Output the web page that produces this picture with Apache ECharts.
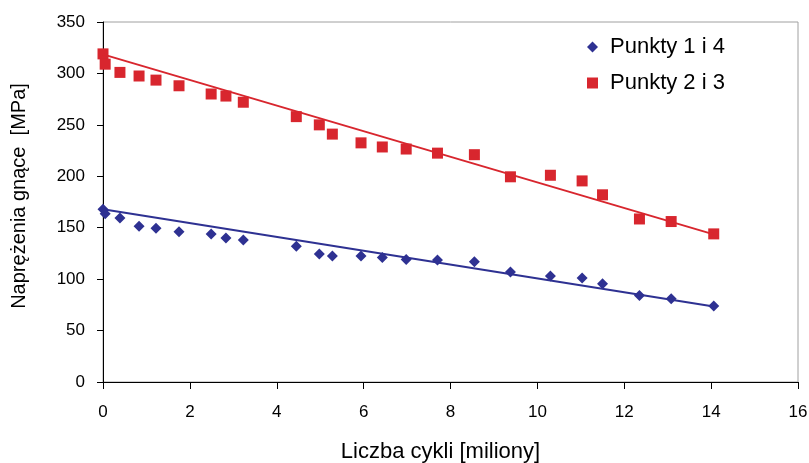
<!DOCTYPE html>
<html>
<head>
<meta charset="utf-8">
<script src="https://cdn.jsdelivr.net/npm/echarts@6/dist/echarts.min.js"></script>
<style>
  html, body { margin: 0; padding: 0; background: #fff; }
  #chart { width: 809px; height: 463px; }
</style>
</head>
<body>
<div id="chart"></div>
<script>
var cycles = [0, 0.05, 0.39, 0.83, 1.22, 1.75, 2.49, 2.83, 3.23, 4.45, 4.98, 5.28, 5.94, 6.43, 6.98, 7.7, 8.55, 9.38, 10.3, 11.03, 11.5, 12.35, 13.08, 14.06];
var stress14 = [168, 163.5, 159.5, 151.5, 149.5, 146, 144, 140, 138, 132, 124.5, 122.5, 122.5, 121, 119, 118.5, 117, 107, 103, 101, 95.5, 84, 81, 74];
var stress23 = [319, 309, 301, 297.5, 293.5, 288, 280, 278, 272, 258, 250, 241, 232.5, 228.5, 226.5, 222.5, 221, 199.5, 201, 195.5, 182, 158.5, 156, 144];
var trend14 = [[0, 168], [14.06, 73.5]];
var trend23 = [[0, 318.5], [14.06, 143.5]];

var blue = '#2e3192';
var red = '#d8262e';

function pairs(xs, ys) {
  var out = [];
  for (var i = 0; i < xs.length; i++) out.push([xs[i], ys[i]]);
  return out;
}

var chart = echarts.init(document.getElementById('chart'));
chart.setOption({
  animation: false,
  textStyle: { fontFamily: 'Liberation Sans, Arial, sans-serif', color: '#000' },
  grid: {
    left: 103, right: 11, top: 22, bottom: 81,
    outerBoundsMode: 'none', containLabel: false,
    show: true, borderColor: '#a0a0a0', borderWidth: 1
  },
  legend: {
    data: ['Punkty 1 i 4', 'Punkty 2 i 3'],
    orient: 'vertical',
    left: 582, top: 31,
    itemWidth: 11, itemHeight: 11, itemGap: 14,
    textStyle: { fontSize: 22, color: '#000', padding: [0, 0, 0, 7] }
  },
  xAxis: {
    type: 'value', min: 0, max: 16, interval: 2,
    name: 'Liczba cykli [miliony]', nameLocation: 'middle', nameGap: 59,
    nameTextStyle: { fontSize: 22, color: '#000', padding: [0, 20, 0, 0] },
    axisLine: { lineStyle: { color: '#000' } },
    axisTick: { length: 7, lineStyle: { color: '#000' } },
    axisLabel: { fontSize: 17, color: '#000', margin: 22 },
    splitLine: { show: false }
  },
  yAxis: {
    type: 'value', min: 0, max: 350, interval: 50,
    name: 'Naprężenia gnące  [MPa]', nameLocation: 'middle', nameGap: 74,
    nameTextStyle: { fontSize: 20, color: '#000', padding: [0, 0, 0, 12] },
    axisLine: { show: true, lineStyle: { color: '#000' } },
    axisTick: { show: true, length: 6, lineStyle: { color: '#000' } },
    axisLabel: { fontSize: 17, color: '#000', margin: 18 },
    splitLine: { show: false }
  },
  series: [
    {
      name: 'trend14', type: 'line', data: trend14, symbol: 'none',
      lineStyle: { color: blue, width: 2 }, silent: true
    },
    {
      name: 'trend23', type: 'line', data: trend23, symbol: 'none',
      lineStyle: { color: red, width: 2 }, silent: true
    },
    {
      name: 'Punkty 1 i 4', type: 'scatter', data: pairs(cycles, stress14),
      symbol: 'diamond', symbolSize: 11,
      itemStyle: { color: blue, opacity: 1 }
    },
    {
      name: 'Punkty 2 i 3', type: 'scatter', data: pairs(cycles, stress23),
      symbol: 'rect', symbolSize: 11,
      itemStyle: { color: red, opacity: 1 }
    }
  ]
});
</script>
</body>
</html>
